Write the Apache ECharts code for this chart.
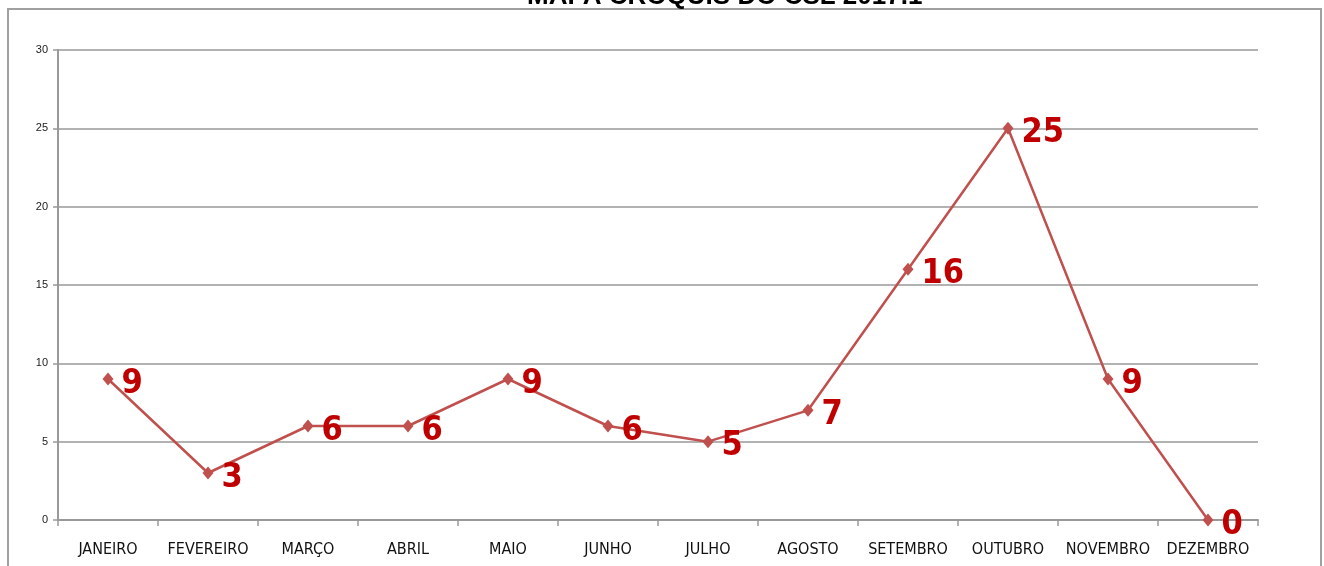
<!DOCTYPE html>
<html>
<head>
<meta charset="utf-8">
<script src="https://cdn.jsdelivr.net/npm/echarts@6/dist/echarts.min.js"></script>
<style>html,body{margin:0;padding:0;background:#fff;}#c{width:1324px;height:566px;}</style>
</head>
<body>
<div id="c"></div>
<script>
const titleText = "MAPA CROQUIS DO CSL 2017.1";
const categories = ["JANEIRO","FEVEREIRO","MARÇO","ABRIL","MAIO","JUNHO","JULHO","AGOSTO","SETEMBRO","OUTUBRO","NOVEMBRO","DEZEMBRO"];
const values = [9,3,6,6,9,6,5,7,16,25,9,0];
const yTicks = [0,5,10,15,20,25,30];

const chart = echarts.init(document.getElementById('c'));
chart.setOption({
  animation:false,
  backgroundColor:'#fff',
  title:{text:titleText,left:522,top:-21,textStyle:{fontFamily:'Liberation Sans Narrow, Liberation Sans, sans-serif',fontSize:26,fontWeight:'bold',color:'#000'}},
  graphic:[{type:'rect',shape:{x:8,y:9,width:1313,height:600},style:{fill:'none',stroke:'#a0a0a0',lineWidth:2},z:-1}],
  grid:{left:58,top:50,width:1200,height:470,containLabel:false},
  xAxis:{type:'category',data:categories,boundaryGap:true,
    axisLine:{lineStyle:{color:'#999',width:2}},
    axisTick:{show:true,alignWithLabel:false,length:6,lineStyle:{color:'#999',width:1.5}},
    axisLabel:{color:'#111',fontSize:16,fontFamily:'Liberation Sans Narrow, DejaVu Sans Condensed, sans-serif',margin:22,interval:0}},
  yAxis:{type:'value',min:0,max:30,interval:5,
    axisLine:{show:true,lineStyle:{color:'#999',width:2}},
    axisTick:{show:true,length:5,lineStyle:{color:'#999',width:1.5}},
    splitLine:{lineStyle:{color:'#999',width:1.5}},
    axisLabel:{color:'#222',fontSize:11,fontFamily:'Liberation Sans Narrow, sans-serif',margin:10,
      formatter:v=>yTicks.includes(v)?String(v):''}},
  series:[{type:'line',data:values,
    lineStyle:{color:'#C0504D',width:2.5},
    itemStyle:{color:'#C0504D'},
    symbol:'diamond',symbolSize:[11,13],
    label:{show:true,position:'right',distance:8,color:'#C00000',fontSize:34,fontWeight:'bold',
      fontFamily:'Liberation Sans Narrow, DejaVu Sans Condensed, sans-serif',offset:[0,5]}}]
});
</script>
</body>
</html>
